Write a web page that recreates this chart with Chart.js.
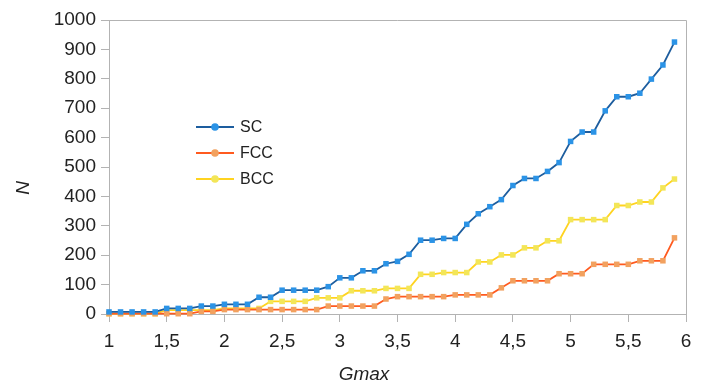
<!DOCTYPE html>
<html>
<head>
<meta charset="utf-8">
<script src="https://cdn.jsdelivr.net/npm/chart.js@4/dist/chart.umd.min.js"></script>
<style>
  html, body { margin: 0; padding: 0; background: #ffffff; }
  #wrap { width: 718px; height: 387px; }
</style>
</head>
<body>
<div id="wrap"><canvas id="c" width="718" height="387"></canvas></div>
<script>
// Gmax values (x)
const gmax = [1.0,1.1,1.2,1.3,1.4,1.5,1.6,1.7,1.8,1.9,
              2.0,2.1,2.2,2.3,2.4,2.5,2.6,2.7,2.8,2.9,
              3.0,3.1,3.2,3.3,3.4,3.5,3.6,3.7,3.8,3.9,
              4.0,4.1,4.2,4.3,4.4,4.5,4.6,4.7,4.8,4.9,
              5.0,5.1,5.2,5.3,5.4,5.5,5.6,5.7,5.8,5.9];

const seriesNames = ["SC", "FCC", "BCC"];

const scValues  = [7,7,7,7,7,19,19,19,27,27,
                   33,33,33,57,57,81,81,81,81,93,
                   123,123,147,147,171,179,203,251,251,257,
                   257,305,341,365,389,437,461,461,485,515,
                   587,619,619,691,739,739,751,799,847,925];

const fccValues = [1,1,1,1,1,1,1,1,9,9,
                   15,15,15,15,15,15,15,15,15,27,
                   27,27,27,27,51,59,59,59,59,59,
                   65,65,65,65,89,113,113,113,113,137,
                   137,137,169,169,169,169,181,181,181,259];

const bccValues = [1,1,1,1,1,13,13,13,13,13,
                   19,19,19,19,43,43,43,43,55,55,
                   55,79,79,79,87,87,87,135,135,141,
                   141,141,177,177,201,201,225,225,249,249,
                   321,321,321,321,369,369,381,381,429,459];

const xTitle = "Gmax";
const yTitle = "N";

const lineColors   = ["#1d5d9e", "#ff5a1f", "#ffd320"];
const markerColors = ["#2b93e6", "#f2a15f", "#f3e658"];

function toPoints(vals) { return gmax.map((x, i) => ({ x: x, y: vals[i] })); }

const allValues = [scValues, fccValues, bccValues];
const datasets = seriesNames.map((name, i) => ({
  label: name,
  data: toPoints(allValues[i]),
  borderColor: lineColors[i],
  backgroundColor: markerColors[i],
  pointBackgroundColor: markerColors[i],
  pointBorderColor: markerColors[i],
  pointBorderWidth: 0,
  pointStyle: 'rect',
  pointRadius: 3.9,
  borderWidth: 1.8,
  tension: 0,
  clip: false
}));

const fontFamily = '"Liberation Sans", Arial, sans-serif';

const frame = {
  id: 'frame',
  beforeDatasetsDraw(chart) {
    const a = chart.chartArea, ctx = chart.ctx;
    ctx.save();
    ctx.strokeStyle = '#b3b3b3';
    ctx.lineWidth = 1;
    ctx.beginPath();
    ctx.moveTo(a.left, a.top + 0.5);
    ctx.lineTo(a.right + 0.5, a.top + 0.5);
    ctx.lineTo(a.right + 0.5, a.bottom);
    ctx.stroke();
    ctx.restore();
  }
};

const axisTitles = {
  id: 'axisTitles',
  afterDraw(chart) {
    const ctx = chart.ctx;
    ctx.save();
    ctx.fillStyle = '#222222';
    ctx.font = 'italic 19px ' + fontFamily;
    ctx.textAlign = 'center';
    ctx.textBaseline = 'middle';
    ctx.fillText(xTitle, 364, 375);
    ctx.translate(24, 188);
    ctx.rotate(-Math.PI / 2);
    ctx.fillText(yTitle, 0, 0);
    ctx.restore();
  }
};

const innerLegend = {
  id: 'innerLegend',
  afterDraw(chart) {
    const a = chart.chartArea, ctx = chart.ctx;
    const x0 = a.left + 87, x1 = a.left + 125, xm = a.left + 106, xt = a.left + 131;
    const y0 = a.top + 107, step = 26;
    ctx.save();
    chart.data.datasets.forEach((ds, i) => {
      const y = y0 + i * step;
      ctx.strokeStyle = ds.borderColor;
      ctx.lineWidth = 1.8;
      ctx.beginPath();
      ctx.moveTo(x0, y); ctx.lineTo(x1, y); ctx.stroke();
      ctx.fillStyle = ds.pointBackgroundColor;
      ctx.beginPath();
      ctx.arc(xm, y, 3.8, 0, Math.PI * 2);
      ctx.fill();
      ctx.fillStyle = '#222222';
      ctx.font = '16px ' + fontFamily;
      ctx.textBaseline = 'middle';
      ctx.textAlign = 'left';
      ctx.fillText(ds.label, xt, y + 1);
    });
    ctx.restore();
  }
};

const tickFont = { family: fontFamily, size: 19 };

new Chart(document.getElementById('c'), {
  type: 'line',
  data: { datasets: datasets },
  plugins: [frame, innerLegend, axisTitles],
  options: {
    responsive: false,
    animation: false,
    layout: { padding: { left: 0, right: 32, top: 20, bottom: 0 } },
    plugins: { legend: { display: false }, tooltip: { enabled: false } },
    scales: {
      x: {
        type: 'linear',
        min: 1, max: 6,
        afterFit(s) { s.height = 73; },
        grid: { drawOnChartArea: false, color: '#b3b3b3', tickLength: 8 },
        border: { color: '#b3b3b3', width: 1 },
        ticks: {
          stepSize: 0.5,
          padding: 8,
          color: '#222222',
          font: tickFont,
          maxRotation: 0,
          callback: (v) => Number.isInteger(v) ? String(v) : v.toFixed(1).replace('.', ',')
        },
        title: { display: false }
      },
      y: {
        min: 0, max: 1000,
        afterFit(s) { s.width = 109; },
        grid: { drawOnChartArea: false, color: '#b3b3b3', tickLength: 8 },
        border: { color: '#b3b3b3', width: 1 },
        ticks: { stepSize: 100, padding: 5, color: '#222222', font: tickFont,
                 callback: (v) => String(v) },
        title: { display: false }
      }
    }
  }
});
</script>
</body>
</html>
